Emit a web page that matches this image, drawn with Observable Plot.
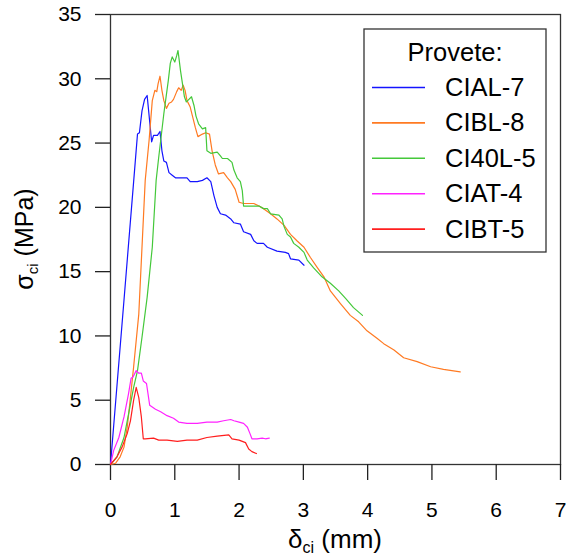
<!DOCTYPE html>
<html>
<head>
<meta charset="utf-8">
<script src="https://cdn.jsdelivr.net/npm/d3@7"></script>
<script src="https://cdn.jsdelivr.net/npm/@observablehq/plot@0.6"></script>
<style>
  html, body { margin: 0; padding: 0; background: white; }
  #chart svg { display: block; }
</style>
</head>
<body>
<div id="chart"></div>
<script>
const seriesNames = ["CIAL-7", "CIBL-8", "CI40L-5", "CIAT-4", "CIBT-5"];
const seriesColors = ["#1414ff", "#ff7a22", "#44c83a", "#ff22ff", "#ff1e1e"];
const xTicks = [0, 1, 2, 3, 4, 5, 6, 7];
const yTicks = [0, 5, 10, 15, 20, 25, 30, 35];

const cial7 = [[0,0],[0.21,12.8],[0.36,22],[0.42,25.7],[0.45,25.8],[0.49,27.5],[0.53,28.4],[0.57,28.7],[0.64,25.1],[0.67,25.6],[0.73,25.6],[0.77,25.9],[0.80,24.4],[0.83,23.6],[0.87,23.5],[0.91,22.7],[0.96,22.5],[1.01,22.3],[1.12,22.3],[1.19,22.3],[1.24,22.0],[1.35,22.0],[1.43,22.1],[1.50,22.3],[1.56,22.0],[1.61,20.9],[1.66,20.0],[1.71,19.5],[1.79,19.4],[1.87,19.1],[1.92,18.8],[2.02,18.7],[2.07,18.1],[2.18,17.9],[2.23,17.4],[2.28,17.2],[2.38,17.2],[2.44,16.9],[2.59,16.6],[2.72,16.5],[2.77,16.4],[2.80,16.0],[2.93,15.9],[3.01,15.5]];

const cibl8 = [[0,0],[0.08,0.1],[0.15,0.6],[0.21,1.35],[0.26,2.9],[0.31,5.2],[0.36,7.6],[0.44,11.7],[0.54,22.1],[0.60,25.2],[0.65,28.3],[0.69,29.1],[0.72,29.0],[0.74,29.6],[0.77,30.2],[0.80,29.1],[0.83,28.3],[0.87,27.7],[0.91,28.1],[0.95,28.2],[0.98,28.4],[1.03,29.0],[1.06,29.3],[1.10,29.1],[1.13,29.5],[1.16,29.1],[1.19,28.3],[1.24,27.8],[1.28,27.0],[1.32,26.2],[1.36,25.5],[1.43,25.7],[1.48,25.8],[1.54,25.7],[1.58,24.4],[1.63,23.3],[1.68,22.6],[1.76,22.7],[1.82,22.3],[1.87,22.0],[1.94,21.4],[2.00,20.4],[2.07,20.3],[2.23,20.3],[2.31,20.1],[2.38,19.9],[2.49,19.5],[2.59,19.1],[2.70,18.6],[2.80,17.9],[2.90,17.4],[3.01,16.9],[3.11,16.1],[3.22,15.3],[3.32,14.6],[3.42,13.5],[3.58,12.5],[3.73,11.6],[3.86,11.1],[3.99,10.4],[4.15,9.8],[4.25,9.4],[4.41,8.9],[4.56,8.3],[4.77,8.0],[4.98,7.6],[5.18,7.4],[5.44,7.2]];

const ci40l5 = [[0,0],[0.10,0.57],[0.21,2.1],[0.28,3.9],[0.36,6.0],[0.42,7.3],[0.49,9.9],[0.57,13.0],[0.65,16.9],[0.71,22.1],[0.75,23.9],[0.83,27.3],[0.90,29.9],[0.93,31.2],[0.96,31.7],[1.00,31.3],[1.03,31.8],[1.05,32.2],[1.09,30.6],[1.12,29.6],[1.15,28.6],[1.18,28.2],[1.22,28.4],[1.26,28.6],[1.30,27.9],[1.33,27.1],[1.37,26.5],[1.43,26.1],[1.48,26.2],[1.50,24.4],[1.56,24.2],[1.66,24.3],[1.71,24.0],[1.74,23.8],[1.82,23.8],[1.89,23.5],[1.92,22.9],[1.97,22.3],[2.02,22.0],[2.05,21.3],[2.07,20.1],[2.18,20.1],[2.31,20.1],[2.38,19.9],[2.44,19.9],[2.49,19.5],[2.62,19.4],[2.67,19.1],[2.70,18.5],[2.75,17.9],[2.80,17.7],[2.85,17.2],[2.93,16.9],[3.01,16.5],[3.06,15.9],[3.16,15.3],[3.29,14.6],[3.42,14.1],[3.55,13.5],[3.66,12.9],[3.78,12.2],[3.92,11.6]];

const ciat4 = [[0,0],[0.05,1.1],[0.13,2.1],[0.21,3.7],[0.28,5.5],[0.32,6.7],[0.35,6.8],[0.40,7.3],[0.44,7.1],[0.48,7.1],[0.51,6.5],[0.56,6.3],[0.61,4.6],[0.70,4.3],[0.78,4.1],[0.88,3.8],[0.98,3.6],[1.06,3.3],[1.19,3.2],[1.35,3.2],[1.50,3.3],[1.66,3.3],[1.76,3.4],[1.87,3.5],[1.92,3.4],[2.00,3.3],[2.07,3.2],[2.13,2.9],[2.17,2.4],[2.20,2.0],[2.28,2.0],[2.36,2.05],[2.41,2.0],[2.47,2.05]];

const cibt5 = [[0,0],[0.10,0.6],[0.18,1.35],[0.26,2.4],[0.31,3.4],[0.36,5.0],[0.40,6.0],[0.44,5.2],[0.48,3.7],[0.51,2.0],[0.54,2.0],[0.67,2.05],[0.75,1.9],[0.88,1.9],[1.04,1.8],[1.19,1.9],[1.35,1.9],[1.50,2.1],[1.66,2.2],[1.84,2.3],[1.89,2.0],[2.00,1.9],[2.10,1.7],[2.15,1.2],[2.20,1.0],[2.27,0.85]];

const allSeries = [cial7, cibl8, ci40l5, ciat4, cibt5];
const rows = allSeries.flatMap((pts, i) => pts.map(([x, y]) => ({x, y, series: seriesNames[i]})));

const FONT = "Arial, 'Liberation Sans', Helvetica, sans-serif";
const W = 566, H = 557;
const mL = 110, mR = 6, mT = 14, mB = 93;

const plot = Plot.plot({
  width: W, height: H,
  marginLeft: mL, marginRight: mR, marginTop: mT, marginBottom: mB,
  style: {fontFamily: FONT, background: "white", color: "#000"},
  x: {domain: [0, 7]},
  y: {domain: [0, 35]},
  color: {domain: seriesNames, range: seriesColors},
  marks: [
    Plot.frame({stroke: "#333", strokeWidth: 1.3}),
    Plot.axisX(xTicks, {tickSize: 16, tickPadding: 22, fontSize: 21, label: null, strokeWidth: 1.3, stroke: "#222"}),
    Plot.axisY(yTicks, {tickSize: 15, tickPadding: 14, fontSize: 21, label: null, strokeWidth: 1.3, stroke: "#222"}),
    Plot.line(rows, {x: "x", y: "y", z: "series", stroke: "series", strokeWidth: 1.2})
  ]
});

document.getElementById("chart").appendChild(plot);

const svg = d3.select(plot);
const innerW = W - mL - mR, innerH = H - mT - mB;

// X axis label with subscript
const xl = svg.append("text")
  .attr("x", mL + innerW / 2).attr("y", 548)
  .attr("text-anchor", "middle")
  .attr("font-family", FONT).attr("font-size", 26).attr("fill", "#000");
xl.append("tspan").text("δ");
xl.append("tspan").attr("font-size", 16).attr("dy", 5).text("ci");
xl.append("tspan").attr("dy", -5).text(" (mm)");

// Y axis label with subscript
const yl = svg.append("text")
  .attr("transform", `translate(33,${mT + innerH / 2}) rotate(-90)`)
  .attr("text-anchor", "middle")
  .attr("font-family", FONT).attr("font-size", 25).attr("fill", "#000");
yl.append("tspan").text("σ");
yl.append("tspan").attr("font-size", 15).attr("dy", 5).text("ci");
yl.append("tspan").attr("dy", -5).text(" (MPa)");

// Legend
const color = plot.scale("color");
const lg = svg.append("g").attr("font-family", FONT).attr("text-anchor", "start");
lg.append("rect").attr("x", 364).attr("y", 29).attr("width", 182).attr("height", 223)
  .attr("fill", "white").attr("stroke", "#333").attr("stroke-width", 1.3);
lg.append("text").attr("x", 455).attr("y", 61).attr("text-anchor", "middle")
  .attr("font-size", 25.5).text("Provete:");
seriesNames.forEach((name, i) => {
  const yy = 87.5 + i * 35.4;
  lg.append("line").attr("x1", 372).attr("x2", 425).attr("y1", yy).attr("y2", yy)
    .attr("stroke", color.apply(name)).attr("stroke-width", 1.6);
  lg.append("text").attr("x", 445).attr("y", yy + 8.5).attr("text-anchor", "start")
    .attr("font-size", 25.5).text(name);
});
</script>
</body>
</html>
